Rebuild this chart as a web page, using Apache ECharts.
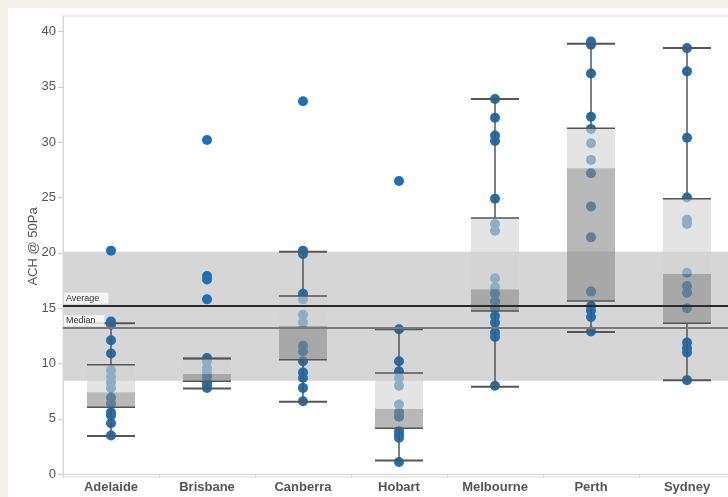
<!DOCTYPE html>
<html>
<head>
<meta charset="utf-8">
<script src="https://cdn.jsdelivr.net/npm/echarts@6/dist/echarts.min.js"></script>
<style>
  html, body { margin: 0; padding: 0; background: #f3efe9; width: 728px; height: 497px; overflow: hidden; }
  #chart { position: absolute; left: 8px; top: 8px; width: 740px; height: 489px; background: #ffffff; }
</style>
</head>
<body>
<div id="chart"></div>
<script>
// ---- Data ----
const categories = ['Adelaide', 'Brisbane', 'Canberra', 'Hobart', 'Melbourne', 'Perth', 'Sydney'];
const yTicks = [0, 5, 10, 15, 20, 25, 30, 35, 40];

const adelaide  = [20.2, 13.8, 13.5, 12.1, 10.9, 9.4, 8.8, 8.3, 7.8, 6.9, 6.4, 5.6, 5.3, 4.6, 3.5];
const brisbane  = [30.2, 17.9, 17.6, 15.8, 10.5, 10.2, 9.6, 9.2, 8.8, 8.3, 8.0, 7.8];
const canberra  = [33.7, 20.2, 19.9, 16.3, 15.8, 14.4, 13.7, 11.6, 11.1, 10.2, 9.2, 8.7, 7.8, 6.6];
const hobart    = [26.5, 13.1, 10.2, 9.3, 8.7, 8.0, 6.3, 5.6, 5.2, 3.9, 3.6, 3.3, 1.1];
const melbourne = [33.9, 32.2, 30.6, 30.1, 24.9, 22.6, 22.0, 17.7, 16.9, 16.3, 15.6, 15.0, 14.3, 13.7, 12.8, 12.4, 8.0];
const perth     = [39.1, 38.8, 36.2, 32.3, 31.2, 29.9, 28.4, 27.2, 24.2, 21.4, 16.5, 15.2, 14.8, 14.2, 12.9];
const sydney    = [38.5, 36.4, 30.4, 25.0, 23.0, 22.6, 18.2, 17.0, 16.4, 15.0, 11.9, 11.4, 11.0, 8.5];
const cityValues = [adelaide, brisbane, canberra, hobart, melbourne, perth, sydney];

// box plot stats per city: [lowWhisker, q1, median, q3, highWhisker]
const boxAdelaide  = [3.45, 6.05, 7.4, 9.9, 13.65];
const boxBrisbane  = [7.75, 8.4, 9.05, 10.45, 10.45];
const boxCanberra  = [6.55, 10.35, 13.4, 16.1, 20.1];
const boxHobart    = [1.25, 4.15, 5.9, 9.15, 13.1];
const boxMelbourne = [7.9, 14.75, 16.7, 23.15, 33.9];
const boxPerth     = [12.85, 15.65, 27.65, 31.25, 38.9];
const boxSydney    = [8.5, 13.65, 18.1, 24.9, 38.5];
const boxStats = [boxAdelaide, boxBrisbane, boxCanberra, boxHobart, boxMelbourne, boxPerth, boxSydney];

// reference band / lines
const bandLow = 8.45, bandHigh = 20.1;
const averageValue = 15.23;
const medianValue = 13.2;

// ---- Build options ----
const scatterData = [];
cityValues.forEach((vals, i) => vals.forEach(v => scatterData.push([i, v])));
const boxData = boxStats.map((b, i) => [i].concat(b));

const FONT = '"Liberation Sans", Arial, sans-serif';

const chart = echarts.init(document.getElementById('chart'));
chart.setOption({
  animation: false,
  backgroundColor: '#ffffff',
  grid: {
    left: 55, top: 8, width: 672, bottom: 20,
    show: true, borderColor: '#dcdcdc', borderWidth: 1, backgroundColor: 'transparent'
  },
  xAxis: {
    type: 'category',
    data: categories,
    boundaryGap: true,
    axisLine: { lineStyle: { color: '#d6d6d6', width: 1 } },
    axisTick: { show: true, length: 4, lineStyle: { color: '#dcdcdc' } },
    axisLabel: { color: '#555555', fontFamily: FONT, fontSize: 13, fontWeight: 'bold', margin: 4 },
    splitLine: { show: false }
  },
  yAxis: {
    type: 'value',
    min: -0.25,
    max: 41.4,
    name: 'ACH @ 50Pa',
    nameLocation: 'middle',
    nameGap: 23,
    nameMoveOverlap: false,
    nameTextStyle: { color: '#555555', fontFamily: FONT, fontSize: 13 },
    axisLine: { show: true, lineStyle: { color: '#d6d6d6', width: 1 } },
    axisTick: { show: true, length: 5, customValues: yTicks, lineStyle: { color: '#cfcfcf' } },
    axisLabel: { color: '#555555', fontFamily: FONT, fontSize: 13, margin: 7, customValues: yTicks },
    splitLine: { show: false }
  },
  series: [
    {
      type: 'scatter',
      z: 1,
      data: [],
      silent: true,
      markArea: {
        silent: true,
        itemStyle: { color: '#d6d6d6' },
        data: [[{ yAxis: bandLow }, { yAxis: bandHigh }]]
      },
      markLine: {
        silent: true,
        symbol: 'none',
        animation: false,
        label: {
          show: true,
          position: 'insideStartTop',
          distance: [1, 2],
          fontFamily: FONT,
          fontSize: 9,
          color: '#333333',
          backgroundColor: 'rgba(255,255,255,0.75)',
          padding: [1, 9, 1, 2]
        },
        data: [
          { yAxis: averageValue, lineStyle: { color: '#2a2a2a', width: 2, type: 'solid' }, label: { formatter: 'Average' } },
          { yAxis: medianValue, lineStyle: { color: '#7a7a7a', width: 2, type: 'solid' }, label: { formatter: 'Median' } }
        ]
      }
    },
    {
      type: 'scatter',
      z: 2,
      symbol: 'circle',
      symbolSize: 10,
      itemStyle: { color: '#1f6fb4', opacity: 1 },
      data: scatterData
    },
    {
      type: 'custom',
      z: 3,
      silent: true,
      data: boxData,
      encode: { x: 0, y: [1, 2, 3, 4, 5] },
      renderItem: function (params, api) {
        const xi = api.value(0);
        const lo = api.value(1), q1 = api.value(2), med = api.value(3), q3 = api.value(4), hi = api.value(5);
        const cx = api.coord([xi, med])[0];
        const w = api.size([1, 0])[0] * 0.5;
        const y = v => api.coord([xi, v])[1];
        const x0 = cx - w / 2, x1 = cx + w / 2;
        const lineCol = '#555555';
        return {
          type: 'group',
          children: [
            { type: 'rect', shape: { x: x0, y: y(q3), width: w, height: y(med) - y(q3) },
              style: { fill: 'rgba(211,211,211,0.62)' } },
            { type: 'rect', shape: { x: x0, y: y(med), width: w, height: y(q1) - y(med) },
              style: { fill: 'rgba(137,137,137,0.6)' } },
            { type: 'line', shape: { x1: cx, y1: y(q3), x2: cx, y2: y(hi) }, style: { stroke: lineCol, lineWidth: 1.5 } },
            { type: 'line', shape: { x1: cx, y1: y(q1), x2: cx, y2: y(lo) }, style: { stroke: lineCol, lineWidth: 1.5 } },
            { type: 'line', shape: { x1: x0, y1: y(q3), x2: x1, y2: y(q3) }, style: { stroke: lineCol, lineWidth: 1.5 } },
            { type: 'line', shape: { x1: x0, y1: y(q1), x2: x1, y2: y(q1) }, style: { stroke: lineCol, lineWidth: 1.5 } },
            { type: 'line', shape: { x1: x0, y1: y(hi), x2: x1, y2: y(hi) }, style: { stroke: lineCol, lineWidth: 2 } },
            { type: 'line', shape: { x1: x0, y1: y(lo), x2: x1, y2: y(lo) }, style: { stroke: lineCol, lineWidth: 2 } }
          ]
        };
      }
    }
  ]
});
</script>
</body>
</html>
